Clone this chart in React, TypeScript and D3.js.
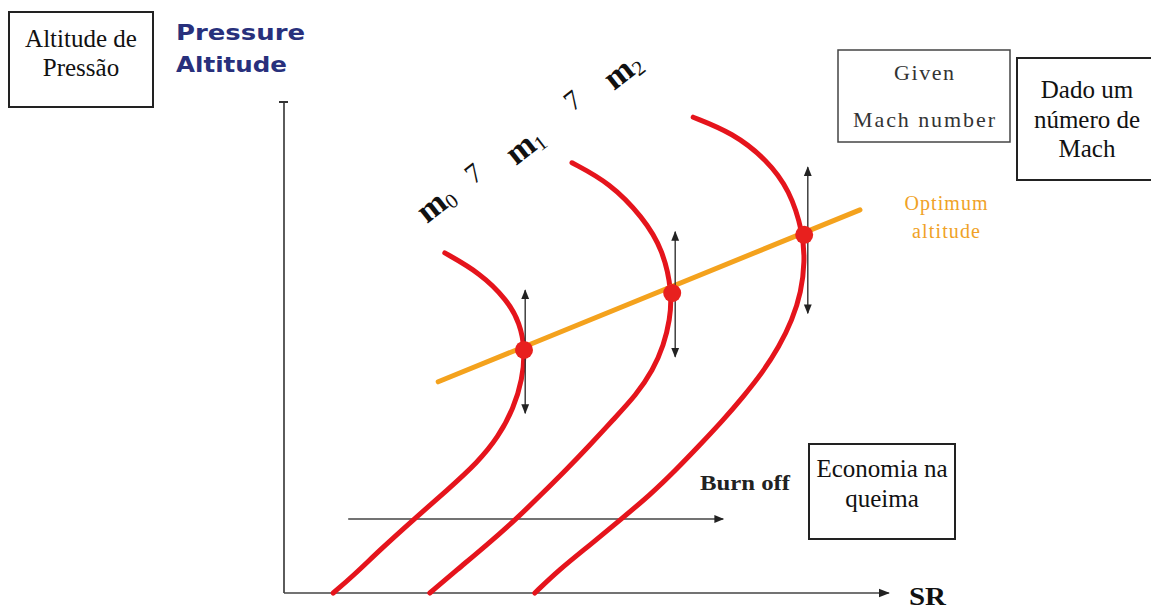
import React from "react";
import * as d3 from "d3";

// ---- data (SR units 0..100, altitude units 0..100) ----
const curveM0: [number, number][] = [
  [26.8, 69.4], [32.7, 65.3], [37.2, 59.8], [39.3, 55.1], [40.2, 49.6], [39.7, 43.5],
  [38.3, 37.8], [35.7, 31.8], [32.3, 26.7], [27.2, 21.0], [21.7, 15.1], [16.0, 8.8],
  [11.7, 3.7], [8.2, 0],
];
const curveM1: [number, number][] = [
  [48.0, 87.8], [54.3, 83.7], [59.8, 76.7], [63.2, 70.0], [64.7, 61.2], [64.3, 55.7],
  [63.3, 50.6], [61.5, 45.5], [58.7, 40.4], [54.8, 35.3], [51.0, 30.2], [47.0, 25.1],
  [42.8, 20.0], [38.7, 15.1], [33.8, 9.8], [28.8, 4.7], [24.3, 0],
];
const curveM2: [number, number][] = [
  [68.2, 97.1], [74.8, 93.9], [80.5, 88.4], [84.3, 82.2], [86.5, 73.5], [86.8, 67.6],
  [86.2, 61.4], [84.7, 55.7], [82.5, 50.2], [79.7, 44.9], [76.5, 40.0], [73.2, 35.3],
  [69.3, 30.2], [65.3, 25.1], [61.0, 20.0], [56.2, 15.1], [51.0, 9.8], [45.8, 4.7], [41.8, 0],
];
const curves = [curveM0, curveM1, curveM2];
const optimumLine: [number, number][] = [[25.7, 43.1], [96.0, 78.2]];
const optimumPoints: [number, number][] = [[40.0, 49.6], [64.7, 61.2], [86.7, 73.1]];
// vertical double arrows: x, yBottom, yTop
const rangeArrows: [number, number, number][] = [
  [40.2, 36.7, 61.8], [65.2, 48.2, 73.7], [87.3, 57.1, 86.9],
];
const burnOff: [number, number, number] = [10.7, 73.2, 15.1]; // x0, x1, y
const machLabels = [
  { t: "m", sub: "0" }, { t: "7", sub: "" }, { t: "m", sub: "1" }, { t: "7", sub: "" }, { t: "m", sub: "2" },
];

const W = 1151, H = 610;
const x = d3.scaleLinear().domain([0, 100]).range([284, 884]);
const y = d3.scaleLinear().domain([0, 100]).range([593, 103]);

const line = d3.line<[number, number]>().x(d => x(d[0])).y(d => y(d[1])).curve(d3.curveBasis);

const serif = "'Liberation Serif', 'Times New Roman', serif";

export default function App() {
  const labelPos: [number, number][] = [[436, 204], [474, 174], [525, 146], [573, 101], [623, 71]];
  return (
    <svg width={W} height={H} style={{ position: "absolute", left: 0, top: 0, background: "#fff" }}>
      <defs>
        <marker id="ah" viewBox="0 0 10 10" refX="9" refY="5" markerWidth="7" markerHeight="7" orient="auto-start-reverse">
          <path d="M0,1 L10,5 L0,9 z" fill="#222" />
        </marker>
      </defs>
      <rect width={W} height={H} fill="#fff" />
      {/* axes */}
      <line x1={x(0)} y1={y(0)} x2={x(0)} y2={y(100.2)} stroke="#333" strokeWidth={1.6} />
      <line x1={x(0) - 5} y1={y(100.2)} x2={x(0) + 4} y2={y(100.2)} stroke="#333" strokeWidth={2} />
      <line x1={x(0)} y1={y(0)} x2={x(100.8)} y2={y(0)} stroke="#444" strokeWidth={1.6} markerEnd="url(#ah)" />
      <text x={909} y={605} fontFamily={serif} fontWeight="bold" fontSize={25} textLength={37} lengthAdjust="spacingAndGlyphs" fill="#111">SR</text>

      {/* burn off arrow */}
      <line x1={x(burnOff[0])} y1={y(burnOff[2])} x2={x(burnOff[1])} y2={y(burnOff[2])} stroke="#444" strokeWidth={1.4} markerEnd="url(#ah)" />
      <text x={700} y={490} fontFamily={serif} fontWeight="bold" fontSize={20} textLength={90} lengthAdjust="spacingAndGlyphs" fill="#222">Burn off</text>

      {/* curves */}
      {curves.map((c, i) => (
        <path key={i} d={line(c) || ""} fill="none" stroke="#e5141c" strokeWidth={5} strokeLinecap="round" strokeLinejoin="round" />
      ))}
      {/* optimum line */}
      <path d={d3.line()(optimumLine.map(p => [x(p[0]), y(p[1])]) as [number, number][]) || ""} stroke="#f4a21d" strokeWidth={5} strokeLinecap="round" fill="none" />
      {/* range arrows */}
      {rangeArrows.map((a, i) => (
        <line key={i} x1={x(a[0])} y1={y(a[1])} x2={x(a[0])} y2={y(a[2])} stroke="#333" strokeWidth={1.4}
          markerStart="url(#ah)" markerEnd="url(#ah)" />
      ))}
      {optimumPoints.map((p, i) => (
        <circle key={i} cx={x(p[0])} cy={y(p[1])} r={9} fill="#e8201e" />
      ))}

      {/* mach labels */}
      {machLabels.map((m, i) => (
        <g key={i} transform={`translate(${labelPos[i][0]},${labelPos[i][1]}) rotate(-38)`}>
          <text textAnchor="middle" fontFamily={serif} fontWeight={m.sub ? "bold" : "normal"} fontSize={m.sub ? 34 : 28} fill="#111" dy="0.3em">
            {m.t}
            {m.sub && <tspan fontSize={21} dy="4" fontWeight="normal">{m.sub}</tspan>}
          </text>
        </g>
      ))}

      {/* top-left boxes */}
      <rect x={9} y={12} width={144} height={95} fill="none" stroke="#222" strokeWidth={2} />
      <text x={81} y={47} textAnchor="middle" fontFamily={serif} fontSize={25} fill="#111">Altitude de</text>
      <text x={81} y={76} textAnchor="middle" fontFamily={serif} fontSize={25} fill="#111">Pressão</text>
      <text x={176} y={40} fontFamily="'DejaVu Sans', Verdana, sans-serif" fontWeight="bold" fontSize={21} fill="#28307c" textLength={129} lengthAdjust="spacingAndGlyphs">Pressure</text>
      <text x={176} y={72} fontFamily="'DejaVu Sans', Verdana, sans-serif" fontWeight="bold" fontSize={21} fill="#28307c" textLength={111} lengthAdjust="spacingAndGlyphs">Altitude</text>

      {/* Given Mach number */}
      <rect x={838} y={50} width={172} height={92} fill="none" stroke="#444" strokeWidth={1.5} />
      <text x={924} y={80} textAnchor="middle" fontFamily={serif} fontSize={22} fill="#333" textLength={60} lengthAdjust="spacing">Given</text>
      <text x={924} y={127} textAnchor="middle" fontFamily={serif} fontSize={22} fill="#333" textLength={142} lengthAdjust="spacing">Mach number</text>

      {/* Dado um numero de Mach */}
      <rect x={1017} y={58} width={140} height={122} fill="none" stroke="#222" strokeWidth={2} />
      <text x={1087} y={98} textAnchor="middle" fontFamily={serif} fontSize={25} fill="#111">Dado um</text>
      <text x={1087} y={128} textAnchor="middle" fontFamily={serif} fontSize={25} fill="#111">número de</text>
      <text x={1087} y={157} textAnchor="middle" fontFamily={serif} fontSize={25} fill="#111">Mach</text>

      {/* Optimum altitude */}
      <text x={946} y={210} textAnchor="middle" fontFamily={serif} fontSize={20} fill="#f0a226" textLength={83} lengthAdjust="spacing">Optimum</text>
      <text x={946} y={238} textAnchor="middle" fontFamily={serif} fontSize={20} fill="#f0a226" textLength={68} lengthAdjust="spacing">altitude</text>

      {/* Economia na queima */}
      <rect x={809} y={444} width={146} height={95} fill="none" stroke="#222" strokeWidth={2} />
      <text x={882} y={477} textAnchor="middle" fontFamily={serif} fontSize={25} fill="#111">Economia na</text>
      <text x={882} y={507} textAnchor="middle" fontFamily={serif} fontSize={25} fill="#111">queima</text>
    </svg>
  );
}
